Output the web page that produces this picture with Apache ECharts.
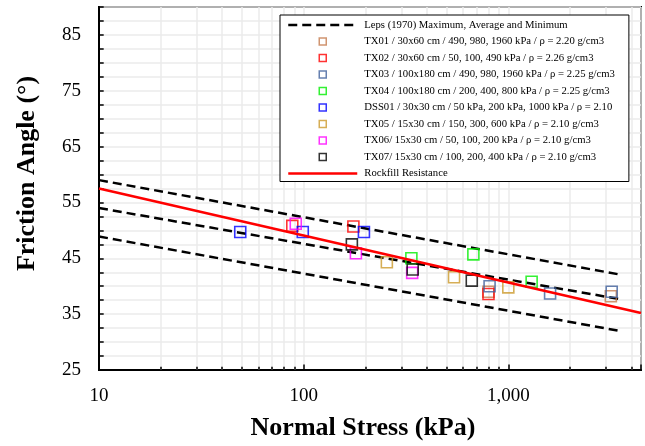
<!DOCTYPE html>
<html><head><meta charset="utf-8">
<script src="https://cdn.jsdelivr.net/npm/echarts@6/dist/echarts.min.js"></script>
<style>html,body{margin:0;padding:0;background:#fff}#c{width:645px;height:446px}</style>
</head><body><div id="c"></div>
<script>
// ---- data ----
const lepsMax = [[10, 59.0], [3500, 42.1]];
const lepsAvg = [[10, 54.0], [3500, 37.7]];
const lepsMin = [[10, 48.9], [3500, 32.0]];
const rockfill = [[10, 57.5], [4450, 35.2]];
const tx01 = [[800, 39.0], [3170, 38.2]];
const tx02 = [[88, 50.8], [175, 50.7], [800, 38.6]];
const tx03 = [[810, 40.0], [1600, 38.7], [3200, 39.0]];
const tx04 = [[336, 45.0], [675, 45.7], [1300, 40.8]];
const dss01 = [[49, 49.7], [99, 49.7], [197, 49.7]];
const tx05 = [[255, 44.3], [543, 41.6], [1000, 39.8]];
const tx06 = [[91.5, 51.2], [180, 45.9], [339, 42.4]];
const tx07 = [[172, 47.5], [341, 43.0], [663, 41.0]];
const xMajorTicks = [10, 100, 1000];
const xMinorTicks = [20, 30, 40, 50, 60, 70, 80, 90, 200, 300, 400, 500, 600, 700, 800, 900, 2000, 3000, 4000];
const yTickLabels = [25, 35, 45, 55, 65, 75, 85];

const names = {
  leps: 'Leps (1970) Maximum, Average and Minimum',
  tx01: 'TX01 / 30x60 cm / 490, 980, 1960 kPa / ρ = 2.20 g/cm3',
  tx02: 'TX02 / 30x60 cm / 50, 100, 490 kPa / ρ = 2.26 g/cm3',
  tx03: 'TX03 / 100x180 cm / 490, 980, 1960 kPa / ρ = 2.25 g/cm3',
  tx04: 'TX04 / 100x180 cm / 200, 400, 800 kPa / ρ = 2.25 g/cm3',
  dss01: 'DSS01 / 30x30 cm / 50 kPa, 200 kPa, 1000 kPa / ρ = 2.10',
  tx05: 'TX05 / 15x30 cm / 150, 300, 600 kPa / ρ = 2.10 g/cm3',
  tx06: 'TX06/ 15x30 cm / 50, 100, 200 kPa / ρ = 2.10 g/cm3',
  tx07: 'TX07/ 15x30 cm / 100, 200, 400 kPa / ρ = 2.10 g/cm3',
  rock: 'Rockfill Resistance'
};
const colors = {
  tx01: '#c47a4e', tx02: '#ff0000', tx03: '#40609c', tx04: '#00ee00',
  dss01: '#0000ff', tx05: '#cc9a2c', tx06: '#ff00ff', tx07: '#000000'
};
const scatterKeys = ['tx01', 'tx02', 'tx03', 'tx04', 'dss01', 'tx05', 'tx06', 'tx07'];

const FONT = 'Liberation Serif';
const chart = echarts.init(document.getElementById('c'), null, {renderer: 'canvas'});

function scatter(key, data) {
  return {
    type: 'scatter', name: names[key], data: data, symbol: 'rect', symbolSize: 11, z: 3,
    itemStyle: {color: 'rgba(0,0,0,0)', borderColor: colors[key], borderWidth: 1.6}
  };
}
function leps(data) {
  return {
    type: 'line', name: names.leps, data: data, symbol: 'none', z: 2,
    lineStyle: {color: '#000', width: 2.5, type: [9, 5]}
  };
}

const isPow10 = v => Math.abs(Math.log10(v) - Math.round(Math.log10(v))) < 1e-6;

const gridLineData = xMinorTicks.map(v => ({xAxis: v}));
const minorTickData = xMinorTicks.map(v => [{coord: [v, 25]}, {coord: [v, 25.6]}]);

const SQUARE = 'path://M0,0L10,0L10,10L0,10Z';
const legendData = [
  {name: names.leps, lineStyle: {color: '#000', width: 2.5, type: [9, 5]},
   itemStyle: {color: 'rgba(0,0,0,0)', borderWidth: 0, opacity: 0}}
].concat(scatterKeys.map(k => ({
  name: names[k], icon: SQUARE,
  itemStyle: {color: 'rgba(0,0,0,0)', borderColor: colors[k], borderWidth: 1.5}
}))).concat([
  {name: names.rock, lineStyle: {color: '#ff0000', width: 2.5},
   itemStyle: {color: 'rgba(0,0,0,0)', borderWidth: 0, opacity: 0}}
]);

const option = {
  animation: false,
  backgroundColor: '#fff',
  grid: {left: 99, right: 4, top: 7, bottom: 72, show: true, borderColor: '#000', borderWidth: 2, backgroundColor: 'transparent'},
  xAxis: {
    type: 'log', logBase: 10, min: 10, max: 4450,
    name: 'Normal Stress (kPa)', nameLocation: 'middle', nameGap: 45,
    nameTextStyle: {fontFamily: FONT, fontWeight: 'bold', fontSize: 26, color: '#000', padding: [0, 14, 0, 0]},
    axisLine: {show: true, lineStyle: {color: '#000', width: 2}},
    axisTick: {show: true, inside: true, length: 5.5, lineStyle: {color: '#000', width: 1.5}},
    axisLabel: {
      fontFamily: FONT, fontSize: 19, color: '#000', margin: 17,
      formatter: v => (isPow10(v) && xMajorTicks.indexOf(Math.round(v)) >= 0) ? Math.round(v).toLocaleString('en-US') : ''
    },
    splitLine: {show: true, lineStyle: {color: '#ebebeb', width: 1.5}}
  },
  yAxis: {
    type: 'value', min: 25, max: 90, interval: 2.5,
    name: 'Friction Angle (°)', nameLocation: 'middle', nameGap: 59, nameRotate: 90,
    nameTextStyle: {fontFamily: FONT, fontWeight: 'bold', fontSize: 26, color: '#000', padding: [0, 0, 0, 30]},
    axisLine: {show: true, lineStyle: {color: '#000', width: 2}},
    axisTick: {show: true, inside: true, length: 4.7, lineStyle: {color: '#000', width: 1.5}},
    axisLabel: {
      fontFamily: FONT, fontSize: 19, color: '#000', margin: 18,
      formatter: v => yTickLabels.indexOf(v) >= 0 ? String(v) : ''
    },
    splitLine: {show: true, lineStyle: {color: '#ebebeb', width: 1.5}}
  },
  legend: {
    orient: 'vertical', left: 280, top: 15, align: 'left',
    backgroundColor: '#fff', borderColor: '#000', borderWidth: 1,
    padding: [4, 14, 2, 7], itemGap: 4.5, itemWidth: 69, itemHeight: 7, symbolKeepAspect: true,
    textStyle: {fontFamily: FONT, fontSize: 10.7, color: '#000', lineHeight: 12, padding: [0, 0, 0, 2]},
    data: legendData
  },
  series: [
    {
      type: 'scatter', name: 'grid-helper', data: [], silent: true, z: 1,
      markLine: {
        silent: true, z: 1, symbol: 'none', animation: false, label: {show: false},
        lineStyle: {color: '#ebebeb', width: 1.5, type: 'solid'},
        data: gridLineData
      }
    },
    {
      type: 'scatter', name: 'tick-helper', data: [], silent: true, z: 1,
      markLine: {
        silent: true, z: 1, symbol: 'none', animation: false, label: {show: false},
        lineStyle: {color: '#000', width: 1.5, type: 'solid'},
        data: minorTickData
      }
    },
    leps(lepsMax), leps(lepsAvg), leps(lepsMin),
    scatter('tx01', tx01), scatter('tx02', tx02), scatter('tx03', tx03), scatter('tx04', tx04),
    scatter('dss01', dss01), scatter('tx05', tx05), scatter('tx06', tx06), scatter('tx07', tx07),
    {
      type: 'line', name: names.rock, data: rockfill, symbol: 'none', z: 4,
      lineStyle: {color: '#ff0000', width: 2.5}
    }
  ]
};
chart.setOption(option);
</script>
</body></html>
